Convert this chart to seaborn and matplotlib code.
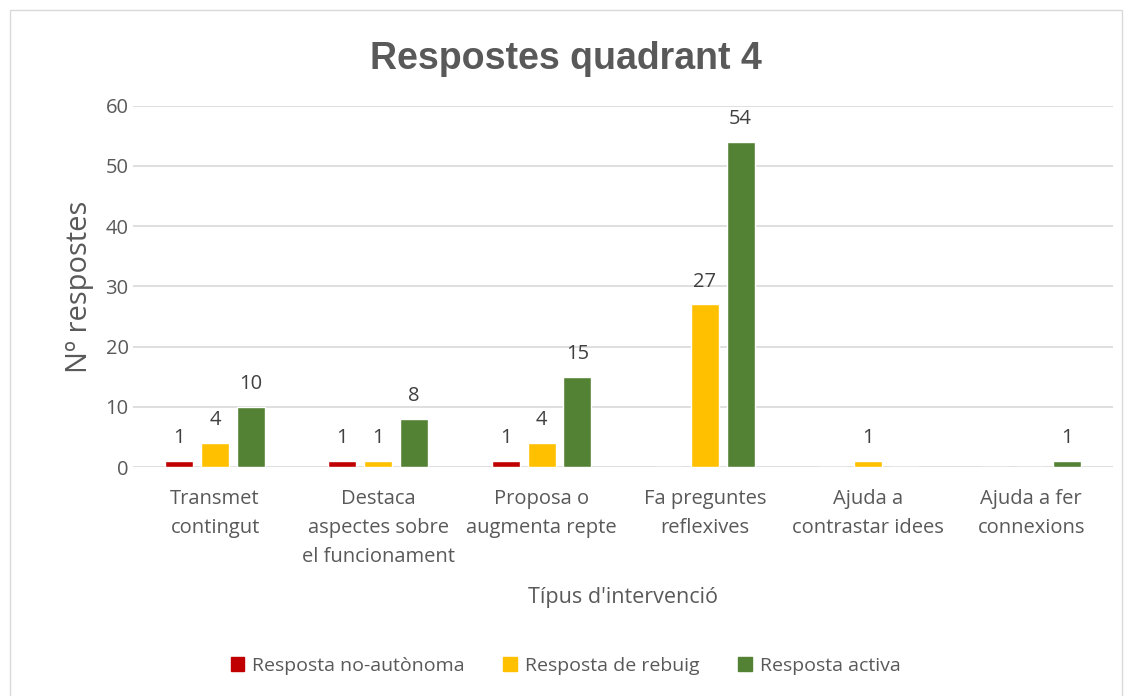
import numpy as np
import pandas as pd
import seaborn as sns
import matplotlib.pyplot as plt
from matplotlib.patches import Rectangle

# Categories and series
categories = ["Transmet\ncontingut",
              "Destaca\naspectes sobre\nel funcionament",
              "Proposa o\naugmenta repte",
              "Fa preguntes\nreflexives",
              "Ajuda a\ncontrastar idees",
              "Ajuda a fer\nconnexions"]
series = ["Resposta no-autònoma", "Resposta de rebuig", "Resposta activa"]
no_autonoma = [1, 1, 1, 0, 0, 0]
rebuig = [4, 1, 4, 27, 1, 0]
activa = [10, 8, 15, 54, 0, 1]
colors = ["#C00000", "#FFC000", "#548235"]

rows = []
for name, vals in zip(series, [no_autonoma, rebuig, activa]):
    for cat, v in zip(categories, vals):
        rows.append({"cat": cat, "serie": name, "val": v})
df = pd.DataFrame(rows)

sns.set_style("white")
plt.rcParams['font.family'] = ['Open Sans', 'DejaVu Sans']
grey = "#595959"

fig = plt.figure(figsize=(11.31, 6.96), dpi=100)
ax = fig.add_axes([0.118, 0.329, 0.866, 0.519])

sns.barplot(data=df, x="cat", y="val", hue="serie", palette=colors,
            order=categories, hue_order=series, width=0.66, gap=0.22,
            ax=ax, legend=False, saturation=1)

# data labels only for non-zero values
for cont in ax.containers:
    labels = [f"{int(b.get_height())}" if b.get_height() > 0 else "" for b in cont]
    ax.bar_label(cont, labels=labels, padding=9, fontsize=14.5, color="#404040")

ax.set_ylim(0, 60)
ax.set_yticks(range(0, 61, 10))
ax.yaxis.grid(True, color="#D9D9D9", linewidth=1.2)
ax.set_axisbelow(True)
for s in ax.spines.values():
    s.set_visible(False)
ax.tick_params(axis="both", length=0, colors=grey, labelsize=14.5)
ax.tick_params(axis="x", pad=16)
for lab in ax.get_xticklabels():
    lab.set_linespacing(1.6)
ax.set_xlim(-0.5, len(categories) - 0.5)

ax.set_ylabel("Nº respostes", fontsize=21, color=grey, labelpad=8)
ax.set_xlabel("Típus d'intervenció", fontsize=15.5, color=grey, labelpad=14)

fig.text(0.5, 0.915, "Respostes quadrant 4", ha="center", va="center",
         fontsize=27, fontweight="bold", color=grey, family="Liberation Sans")

# legend
handles = [Rectangle((0, 0), 1, 1, color=c) for c in colors]
fig.legend(handles, series, loc="center", bbox_to_anchor=(0.5, 0.043), ncol=3,
           frameon=False, fontsize=14, labelcolor=grey, handlelength=0.7,
           handleheight=0.7, handletextpad=0.4, columnspacing=2.0)

# chart border
fig.patches.append(Rectangle((0.009, -0.01), 0.983, 0.996, transform=fig.transFigure,
                             fill=False, edgecolor="#D9D9D9", linewidth=1))

fig.savefig("out.png", dpi=100)
